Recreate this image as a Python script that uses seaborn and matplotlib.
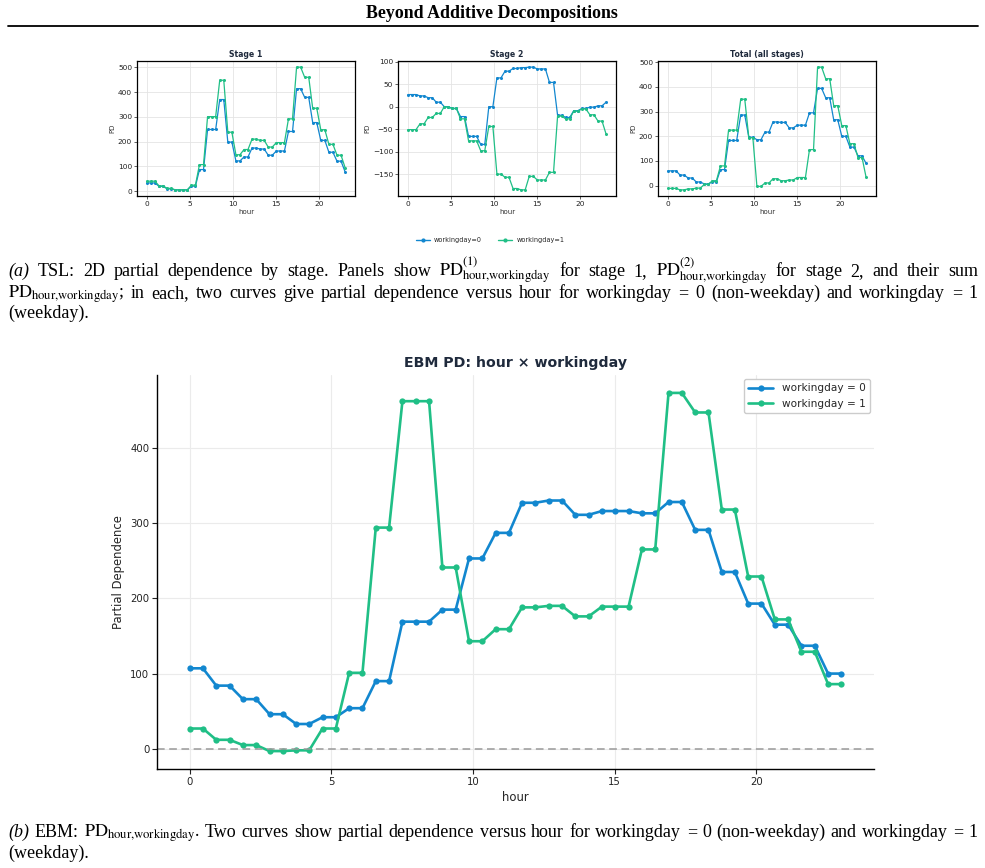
import numpy as np
import pandas as pd
import matplotlib
matplotlib.use("Agg")
import matplotlib.pyplot as plt
from matplotlib.lines import Line2D
import seaborn as sns

sns.set_theme(style="whitegrid")
plt.rcParams["font.family"] = ["DejaVu Sans"]
plt.rcParams["mathtext.fontset"] = "stix"

# evaluation grid (hour) shared by every curve
HOURS = [0.00, 0.47, 0.94, 1.41, 1.88, 2.35, 2.82, 3.29, 3.76, 4.22,
         4.69, 5.16, 5.63, 6.10, 6.57, 7.04, 7.51, 7.98, 8.45, 8.92,
         9.39, 9.86, 10.33, 10.80, 11.27, 11.73, 12.20, 12.67, 13.14, 13.61,
         14.08, 14.55, 15.02, 15.49, 15.96, 16.43, 16.90, 17.37, 17.84, 18.31,
         18.78, 19.24, 19.71, 20.18, 20.65, 21.12, 21.59, 22.06, 22.53, 23.00]

# TSL stage 1
S1_W0 = [33, 33, 33, 19, 19, 9, 9, 5, 5, 5, 5, 20, 20, 87, 87, 249, 249, 249, 370, 370,
         198, 198, 122, 122, 138, 138, 174, 174, 170, 170, 145, 145, 162, 162, 162, 241, 241,
         414, 414, 379, 379, 277, 277, 205, 205, 157, 157, 121, 121, 78]
S1_W1 = [40, 40, 40, 21, 21, 11, 11, 5, 5, 5, 5, 24, 24, 107, 107, 301, 301, 301, 448, 448,
         238, 238, 147, 147, 168, 168, 210, 210, 205, 205, 178, 178, 196, 196, 196, 292, 292,
         501, 501, 460, 460, 335, 335, 248, 248, 189, 189, 145, 145, 95]
# TSL stage 2
S2_W0 = [27, 27, 27, 24, 24, 20, 20, 10, 10, 0, 0, -4, -4, -22, -22, -66, -66, -66, -84, -84,
         0, 0, 64, 64, 79, 79, 85, 85, 87, 87, 88, 88, 84, 84, 84, 54, 54,
         -19, -19, -24, -24, -9, -9, -4, -4, -1, -1, 2, 2, 10]
S2_W1 = [-51, -51, -51, -38, -38, -24, -24, -15, -15, 0, -1, -4, -4, -27, -27, -76, -76, -76, -98, -98,
         -44, -44, -150, -150, -157, -157, -182, -182, -185, -185, -155, -155, -163, -163, -163, -146, -146,
         -21, -21, -27, -27, -10, -10, -5, -5, -18, -18, -32, -32, -61]
# TSL total
TOT_W0 = [60, 60, 60, 43, 43, 31, 31, 15, 15, 7, 7, 16, 16, 65, 65, 183, 183, 183, 286, 286,
          196, 196, 186, 186, 217, 217, 258, 258, 256, 256, 234, 234, 245, 245, 245, 295, 295,
          394, 394, 356, 356, 267, 267, 200, 200, 156, 156, 121, 121, 90]
TOT_W1 = [-11, -11, -11, -17, -17, -13, -13, -10, -10, 5, 5, 20, 20, 80, 80, 225, 225, 225, 350, 350,
          194, 194, -3, -3, 11, 11, 28, 28, 20, 20, 23, 23, 33, 33, 33, 146, 146,
          480, 480, 433, 433, 324, 324, 243, 243, 170, 170, 114, 114, 34]
# EBM
EBM_W0 = [107, 107, 84, 84, 66, 66, 46, 46, 33, 33, 42, 42, 54, 54, 90, 90, 169, 169, 169,
          185, 185, 253, 253, 287, 287, 327, 327, 330, 330, 311, 311, 316, 316, 316,
          313, 313, 328, 328, 291, 291, 235, 235, 193, 193, 165, 165, 137, 137, 100, 100]
EBM_W1 = [27, 27, 12, 12, 5, 5, -3, -3, -2, -2, 27, 27, 101, 101, 294, 294, 462, 462, 462,
          241, 241, 143, 143, 159, 159, 188, 188, 190, 190, 176, 176, 189, 189, 189,
          265, 265, 473, 473, 447, 447, 318, 318, 229, 229, 172, 172, 129, 129, 86, 86]

PANELS = ["Stage 1", "Stage 2", "Total (all stages)"]
BLUE = "#1287cf"
GREEN = "#20bf86"
NAVY = "#1f2a3c"
W, H = 985, 868


def long_df(w0, w1):
    return pd.DataFrame({
        "hour": HOURS * 2,
        "pd": w0 + w1,
        "wd": ["0"] * len(w0) + ["1"] * len(w1),
    })


fig = plt.figure(figsize=(W / 100, H / 100), dpi=100)
fig.patch.set_facecolor("white")

# page header
fig.text(492 / W, 1 - 14 / H, "Beyond Additive Decompositions", ha="center", va="center",
         family="Liberation Serif", weight="bold", fontsize=12.9, color="black")
fig.add_artist(Line2D([8 / W, 978 / W], [1 - 26 / H, 1 - 26 / H], color="black", lw=1.3))

# top row: three small panels
lefts = [137, 398, 658]
for left, name, (w0, w1) in zip(lefts, PANELS,
                                [(S1_W0, S1_W1), (S2_W0, S2_W1), (TOT_W0, TOT_W1)]):
    ax = fig.add_axes([left / W, 1 - 196 / H, 218 / W, 135 / H])
    sns.lineplot(data=long_df(w0, w1), x="hour", y="pd", hue="wd", hue_order=["0", "1"],
                 palette=[BLUE, GREEN], marker="o", markersize=2.2, markeredgewidth=0,
                 linewidth=0.9, legend=False, ax=ax)
    ax.set_title(name, fontsize=5.6, weight="bold", color=NAVY, pad=3)
    ax.set_xlabel("hour", fontsize=5, labelpad=1.5, color="#333333")
    ax.set_ylabel("PD", fontsize=5, labelpad=2, color="#333333")
    ax.set_xticks([0, 5, 10, 15, 20])
    ax.tick_params(labelsize=5.3, length=2, width=0.5, pad=1.5, left=True, bottom=True,
                   colors="#222222")
    ax.grid(color="#e4e4e4", lw=0.6)
    for s in ax.spines.values():
        s.set_color("black")
        s.set_linewidth(0.9)

handles = [Line2D([], [], color=BLUE, marker="o", ms=2, lw=1),
           Line2D([], [], color=GREEN, marker="o", ms=2, lw=1)]
fig.legend(handles, ["workingday=0", "workingday=1"], loc="center",
           bbox_to_anchor=(490 / W, 1 - 240 / H), ncol=2, frameon=False,
           fontsize=4.7, handlelength=2.2, columnspacing=2.5, handletextpad=0.6)

# bottom: EBM panel
ax = fig.add_axes([157 / W, 1 - 769 / H, 717 / W, 394 / H])
sns.lineplot(data=long_df(EBM_W0, EBM_W1), x="hour", y="pd", hue="wd", hue_order=["0", "1"],
             palette=[BLUE, GREEN], marker="o", markersize=4.5, markeredgewidth=0,
             linewidth=1.9, legend=False, ax=ax)
curves = list(ax.lines[:2])
ax.axhline(0, color="#999999", lw=1.1, ls=(0, (5, 3)))
ax.legend(curves, ["workingday = 0", "workingday = 1"], loc="upper right", fontsize=7.6,
          frameon=True, framealpha=1, edgecolor="#cccccc", handlelength=2.4,
          borderaxespad=0.4)
ax.set_title("EBM PD: hour \u00d7 workingday", fontsize=10.2, weight="bold", color=NAVY, pad=6)
ax.set_xlabel("hour", fontsize=8.4, labelpad=3)
ax.set_ylabel("Partial Dependence", fontsize=8.4, labelpad=4)
ax.set_xticks([0, 5, 10, 15, 20])
ax.set_yticks([0, 100, 200, 300, 400])
ax.tick_params(labelsize=7.3, length=3.5, width=0.8, pad=2, left=True, bottom=True,
               colors="#222222")
ax.grid(color="#ebebeb", lw=0.8)
sns.despine(ax=ax)
for s in ("left", "bottom"):
    ax.spines[s].set_color("black")
    ax.spines[s].set_linewidth(1.0)

# captions, justified by hand
renderer = fig.canvas.get_renderer()
CAP = dict(family="Liberation Serif", fontsize=13.0, color="black", va="baseline")
SUB = r"_{\mathrm{hour{,}workingday}}"
PDM = r"$\mathrm{PD}" + SUB + "$"
ITALIC = {"(a)", "(b)"}


def caption_line(y, text, justify=True, x0=8, x1=978):
    words = text.split(" ")
    objs = [fig.text(0, 1 - y / H, w, style="italic" if w in ITALIC else "normal", **CAP)
            for w in words]
    widths = [o.get_window_extent(renderer).width for o in objs]
    if justify and len(words) > 1:
        gap = (x1 - x0 - sum(widths)) / (len(words) - 1)
    else:
        gap = 4.5
    x = x0
    for o, wd in zip(objs, widths):
        o.set_x(x / W)
        x += wd + gap


caption_line(276, "(a) TSL: 2D partial dependence by stage. Panels show "
             r"$\mathrm{PD}^{(1)}" + SUB + "$ for stage 1, "
             r"$\mathrm{PD}^{(2)}" + SUB + "$ for stage 2, and their sum")
caption_line(298, PDM[:-1] + r"$; in each, two curves give partial dependence versus hour for "
             r"workingday = 0 (non-weekday) and workingday = 1")
caption_line(318, "(weekday).", justify=False)
caption_line(837, "(b) EBM: " + PDM + ". Two curves show partial dependence versus "
             r"hour for workingday = 0 (non-weekday) and workingday = 1")
caption_line(858, "(weekday).", justify=False)

fig.savefig("out.png", dpi=100, facecolor="white")
